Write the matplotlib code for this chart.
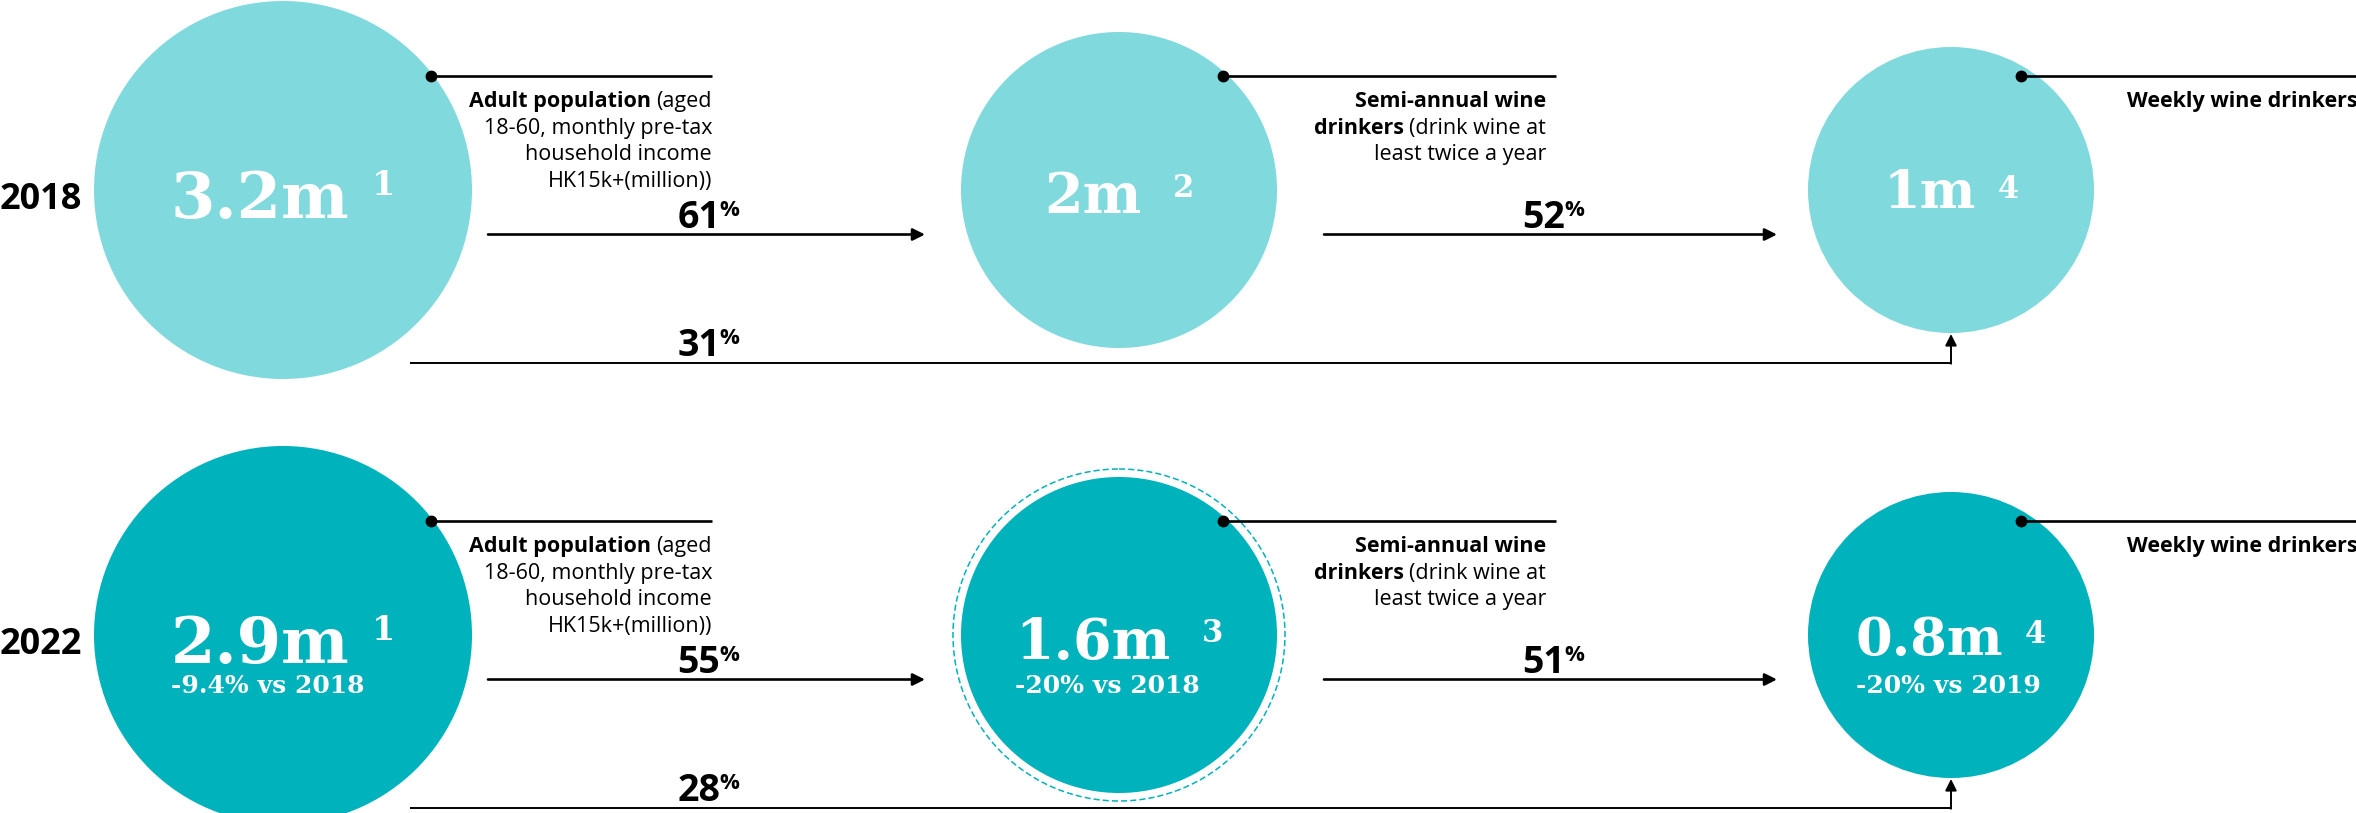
import matplotlib
matplotlib.use("Agg")
import matplotlib.pyplot as plt
from matplotlib.patches import Circle

# ---------------- data ----------------
years = ["2018", "2022"]
stage_values_2018 = [3.2, 2.0, 1.0]          # million people at each funnel stage
stage_values_2022 = [2.9, 1.6, 0.8]
footnotes_2018 = ["1", "2", "4"]
footnotes_2022 = ["1", "3", "4"]
changes_2018 = ["", "", ""]
changes_2022 = ["-9.4% vs 2018", "-20% vs 2018", "-20% vs 2019"]
step_conversion_2018 = [61, 52]               # % moving on to the next stage
step_conversion_2022 = [55, 51]
overall_conversion_2018 = 31                  # % from first stage to last stage
overall_conversion_2022 = 28

# stage descriptions: lines made of (text, weight) runs
stage_labels = [
    [[("Adult population", "bold"), ("(aged", "normal")],
     [("18-60, monthly pre-tax", "normal")],
     [("household income", "normal")],
     [("HK15k+(million))", "normal")]],
    [[("Semi-annual wine", "bold")],
     [("drinkers", "bold"), ("(drink wine at", "normal")],
     [("least twice a year", "normal")]],
    [[("Weekly wine drinkers", "bold")]],
]

rows = [
    dict(year=years[0], values=stage_values_2018, notes=footnotes_2018,
         changes=changes_2018, steps=step_conversion_2018,
         overall=overall_conversion_2018),
    dict(year=years[1], values=stage_values_2022, notes=footnotes_2022,
         changes=changes_2022, steps=step_conversion_2022,
         overall=overall_conversion_2022),
]

# ---------------- layout / style ----------------
W, H, DPI = 2356, 813, 100
row_cy = [190, 635]
row_colors = ["#80D9DC", "#00B2BC"]
ring_stage = [None, 1]                 # stage that gets a dashed ring, per row
circle_cx = [283, 1119, 1951]
circle_r = [189, 158, 143]
value_size = [46, 40, 38]
value_base_dy = [[28, 23, 18], [28, 24, 20]]
note_size = [24, 22, 22]
note_top_dy = [-21, -17, -16]
note_gap = [22, 32, 22]
change_size = 18
change_base_dy = 58

dot_x = [431, 1223, 2021]
dot_dy = -114
leader_end = [712, 1556, W + 20]
label_x = [712, 1546, 2127]
label_ha = ["right", "right", "left"]
label_size = 15.5
label_first_dy = -83
label_step = 26.7

step_x = [(488, 925), (1324, 1777)]
step_dy = 44.5
pct_right = [739, 1584]
pct_base_dy = 38
pct_size = 27
pct_sign_size = 16
overall_x0 = 410
overall_dy = 173
overall_pct_base_dy = 166

SANS = "Open Sans"
SERIF = "DejaVu Serif"

fig = plt.figure(figsize=(W / DPI, H / DPI), dpi=DPI)
ax = fig.add_axes([0, 0, 1, 1])
ax.set_xlim(0, W)
ax.set_ylim(H, 0)
ax.axis("off")
renderer = fig.canvas.get_renderer()


def extent(t):
    return t.get_window_extent(renderer)


def runs_line(x, y, runs, ha):
    """Draw a line of mixed-weight runs aligned left or right at x."""
    space = 5.5
    seq = list(reversed(runs)) if ha == "right" else runs
    for txt, wt in seq:
        t = ax.text(x, y, txt, ha=ha, va="baseline", fontsize=label_size,
                    family=SANS, weight=wt, color="black", zorder=5)
        bb = extent(t)
        x = bb.x0 - space if ha == "right" else bb.x1 + space


def pct_text(x_right, y_base, value):
    digit_px = pct_size * DPI / 72 * 0.714
    p = ax.text(x_right, y_base - digit_px - 1, "%", ha="right", va="top",
                fontsize=pct_sign_size, family=SANS, weight="bold",
                color="black", zorder=5)
    bb = extent(p)
    ax.text(bb.x0 + 1, y_base, f"{value}", ha="right", va="baseline",
            fontsize=pct_size, family=SANS, weight="bold", color="black",
            zorder=5)


for ri, row in enumerate(rows):
    cy = row_cy[ri]
    color = row_colors[ri]

    # year label
    ax.text(0, cy + 10, row["year"], ha="left", va="center", fontsize=26,
            family=SANS, weight="bold", color="black")

    for si in range(3):
        cx, r = circle_cx[si], circle_r[si]
        ax.add_patch(Circle((cx, cy), r, facecolor=color, edgecolor="none", zorder=1))
        if ring_stage[ri] == si:
            ax.add_patch(Circle((cx, cy), r + 8, fill=False, edgecolor=color,
                                lw=1.1, ls=(0, (4, 2)), zorder=1))

        # value + footnote, centred as a group on the circle
        v = row["values"][si]
        main = ax.text(0, cy + value_base_dy[ri][si], f"{v:g}m", ha="left",
                       va="baseline", fontsize=value_size[si], family=SERIF,
                       weight="bold", color="white", zorder=3)
        sup = ax.text(0, cy + note_top_dy[si], row["notes"][si], ha="left",
                      va="top", fontsize=note_size[si], family=SERIF,
                      weight="bold", color="white", zorder=3)
        w1 = extent(main).width
        w2 = extent(sup).width
        x0 = cx - (w1 + note_gap[si] + w2) / 2
        main.set_x(x0)
        sup.set_x(x0 + w1 + note_gap[si])
        if row["changes"][si]:
            ax.text(x0, cy + change_base_dy, row["changes"][si], ha="left",
                    va="baseline", fontsize=change_size, family=SERIF,
                    weight="bold", color="white", zorder=3)

        # leader line with dot and stage description
        ly = cy + dot_dy
        ax.plot([dot_x[si], leader_end[si]], [ly, ly], color="black", lw=1.9,
                solid_capstyle="butt", zorder=4)
        ax.plot([dot_x[si]], [ly], "o", color="black", ms=7.5, zorder=4)
        for li, runs in enumerate(stage_labels[si]):
            runs_line(label_x[si], cy + label_first_dy + li * label_step,
                      runs, label_ha[si])

    # stage-to-stage conversion arrows
    for k, (xa, xb) in enumerate(step_x):
        ya = cy + step_dy
        ax.annotate("", xy=(xb, ya), xytext=(xa, ya),
                    arrowprops=dict(arrowstyle="-|>", color="black", lw=1.9,
                                    mutation_scale=18, shrinkA=0, shrinkB=0),
                    zorder=4)
        pct_text(pct_right[k], cy + pct_base_dy, row["steps"][k])

    # overall conversion: first stage to last stage
    yo = cy + overall_dy
    cx3 = circle_cx[2]
    ax.plot([overall_x0, cx3], [yo, yo], color="black", lw=1.4,
            solid_capstyle="butt", zorder=4)
    ax.annotate("", xy=(cx3, cy + circle_r[2] + 1), xytext=(cx3, yo + 0.7),
                arrowprops=dict(arrowstyle="-|>", color="black", lw=1.4,
                                mutation_scale=17, shrinkA=0, shrinkB=0),
                zorder=4)
    pct_text(pct_right[0], cy + overall_pct_base_dy, row["overall"])

fig.savefig("out.png", dpi=DPI, facecolor="white")
